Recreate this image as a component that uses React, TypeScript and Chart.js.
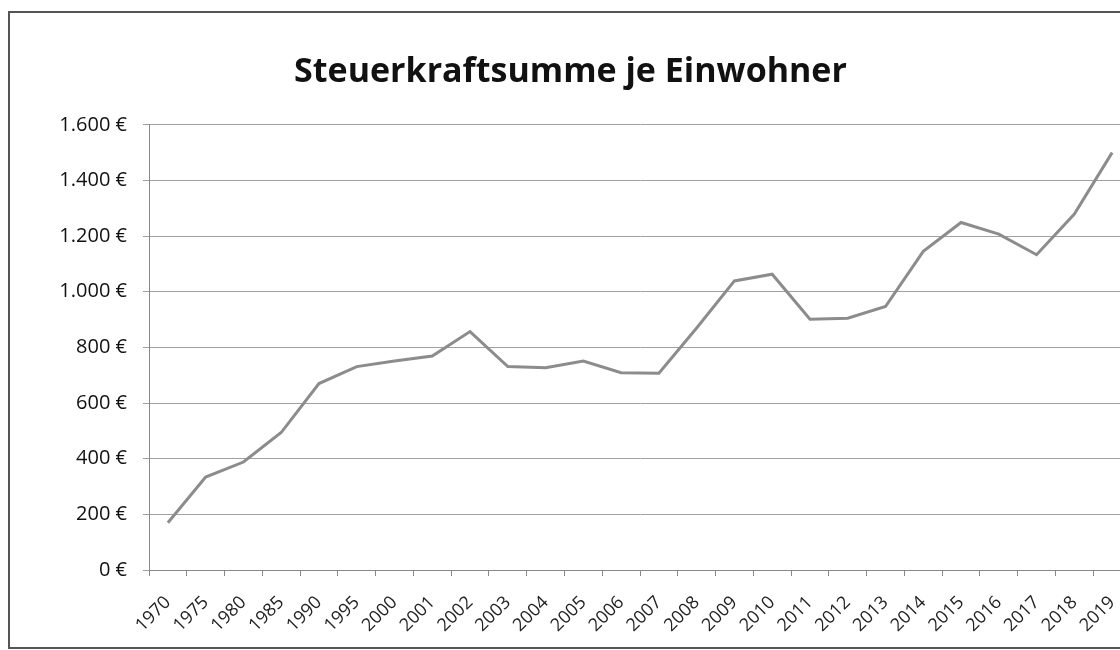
import React, { useEffect, useRef } from "react";
import { Chart, registerables } from "chart.js";

Chart.register(...registerables);

const years = [
  "1970", "1975", "1980", "1985", "1990", "1995", "2000", "2001", "2002", "2003",
  "2004", "2005", "2006", "2007", "2008", "2009", "2010", "2011", "2012", "2013",
  "2014", "2015", "2016", "2017", "2018", "2019",
];
const steuerkraft = [
  170, 334, 388, 494, 670, 731, 751, 769, 857, 731,
  727, 751, 709, 707, 870, 1039, 1063, 901, 905, 947,
  1145, 1249, 1207, 1133, 1279, 1500,
];
const titleText = "Steuerkraftsumme je Einwohner";
const yMin = 0;
const yMax = 1600;
const yStep = 200;

function euro(v: number): string {
  const s = String(Math.round(v));
  const withDots = s.replace(/\B(?=(\d{3})+(?!\d))/g, ".");
  return withDots + " €";
}

export default function App() {
  const ref = useRef<HTMLCanvasElement>(null);
  useEffect(() => {
    document.body.style.overflow = "hidden";
    const ctx = ref.current!;
    const font = "'Open Sans', 'Noto Sans', sans-serif";
    const chart = new Chart(ctx, {
      type: "line",
      data: {
        labels: years,
        datasets: [
          {
            data: steuerkraft,
            borderColor: "#8c8c8c",
            borderWidth: 3,
            pointRadius: 0,
            tension: 0,
            fill: false,
          },
        ],
      },
      options: {
        responsive: false,
        animation: false,
        layout: { padding: { left: 0, right: 15, top: 0, bottom: 0 } },
        plugins: {
          legend: { display: false },
          tooltip: { enabled: false },
          title: {
            display: true,
            text: titleText,
            color: "#111",
            font: { family: font, size: 34, weight: "bold" },
            padding: { top: 39, bottom: 32 },
          },
        },
        scales: {
          x: {
            offset: true,
            afterFit: (s: any) => {
              s.height = 77;
            },
            grid: {
              offset: true,
              drawOnChartArea: false,
              drawTicks: true,
              tickLength: 6,
              color: "#888",
            },
            border: { display: true, color: "#888", width: 1 },
            ticks: {
              autoSkip: false,
              maxRotation: 45,
              minRotation: 45,
              padding: 16,
              color: "#222",
              font: { family: font, size: 18 },
            },
          },
          y: {
            min: yMin,
            max: yMax,
            afterFit: (s: any) => {
              s.width = 139;
            },
            grid: {
              color: "#a0a0a0",
              tickLength: 6,
              lineWidth: 1,
            },
            border: { display: true, color: "#888", width: 1 },
            ticks: {
              stepSize: yStep,
              padding: 16,
              color: "#111",
              font: { family: font, size: 20 },
              callback: (v: any) => euro(Number(v)),
            },
          },
        },
      },
    });
    return () => chart.destroy();
  }, []);

  return (
    <div
      style={{
        position: "absolute",
        left: 8,
        top: 11,
        width: 1140,
        height: 638,
        border: "2px solid #555",
        boxSizing: "border-box",
        background: "#fff",
      }}
    >
      <canvas ref={ref} width={1136} height={634} style={{ display: "block" }} />
    </div>
  );
}
